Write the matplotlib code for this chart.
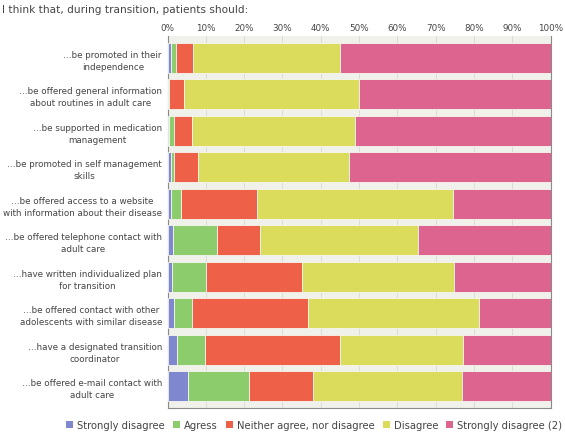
import numpy as np
import matplotlib
matplotlib.use('Agg')
import matplotlib.pyplot as plt
from matplotlib.patches import Patch

title = "I think that, during transition, patients should:"
statements = [
    "\u2026be promoted in their\nindependence",
    "\u2026be offered general information\nabout routines in adult care",
    "\u2026be supported in medication\nmanagement",
    "\u2026be promoted in self management\nskills",
    "\u2026be offered access to a website\nwith information about their disease",
    "\u2026be offered telephone contact with\nadult care",
    "\u2026have written individualized plan\nfor transition",
    "\u2026be offered contact with other\nadolescents with similar disease",
    "\u2026have a designated transition\ncoordinator",
    "\u2026be offered e-mail contact with\nadult care",
]
answers = ["Strongly disagree", "Agress", "Neither agree, nor disagree",
           "Disagree", "Strongly disagree (2)"]

# percent of respondents per answer, one list per answer
strongly_disagree = [1.0, 0.0, 0.5, 0.8, 0.8, 1.3, 1.1, 1.7, 2.4, 5.3]
agree = [1.1, 0.5, 1.1, 0.8, 2.6, 11.6, 9.0, 4.8, 7.5, 16.0]
neither = [4.5, 3.7, 4.7, 6.3, 20.0, 11.2, 24.9, 30.3, 35.1, 16.6]
disagree = [38.3, 45.8, 42.6, 39.4, 51.1, 41.3, 39.7, 44.5, 32.2, 39.1]
strongly_disagree2 = [55.1, 50.0, 51.1, 52.7, 25.5, 34.6, 25.3, 18.7, 22.8, 23.0]

colors = ['#7f88cf', '#8dcc6c', '#ef6049', '#dcdc5c', '#de6490']
text_color = '#444444'

series = [strongly_disagree, agree, neither, disagree, strongly_disagree2]

fig = plt.figure(figsize=(5.65, 4.35), dpi=100)
ax = fig.add_axes([0.2965, 0.06, 0.678, 0.855])
ax.set_facecolor('#f1f1ec')

y = np.arange(len(statements))
left = np.zeros(len(statements))
for vals, col, name in zip(series, colors, answers):
    vals = np.array(vals)
    ax.barh(y, vals, left=left, height=0.82, color=col,
            edgecolor='#f6f6f0', linewidth=0.6, label=name, zorder=3)
    left += vals

ax.set_xlim(0, 100)
ax.set_ylim(9.6, -0.6)
ax.set_xticks(np.arange(0, 101, 10))
ax.set_xticklabels(['%d%%' % v for v in range(0, 101, 10)])
ax.xaxis.tick_top()
ax.tick_params(axis='x', length=0, pad=3, labelsize=6.3, labelcolor=text_color)
ax.grid(axis='x', color='#dcdcd6', linewidth=0.7, zorder=0)

ax.set_yticks(y)
ax.set_yticklabels(statements, multialignment='center', linespacing=1.45)
ax.tick_params(axis='y', length=0, pad=4, labelsize=6.3, labelcolor=text_color)

for s in ['left', 'bottom', 'right']:
    ax.spines[s].set_color('#8a8a8a')
    ax.spines[s].set_linewidth(0.8)
ax.spines['top'].set_visible(False)

fig.text(0.004, 0.988, title, ha='left', va='top', fontsize=7.6,
         color=text_color)

handles = [Patch(facecolor=c, edgecolor='none') for c in colors]
fig.legend(handles, answers, loc='lower center', bbox_to_anchor=(0.556, -0.012),
           ncol=5, frameon=False, fontsize=7.2, handlelength=0.7,
           handleheight=0.7, handletextpad=0.4, columnspacing=0.8,
           labelcolor=text_color)

fig.savefig('out.png', dpi=100)
